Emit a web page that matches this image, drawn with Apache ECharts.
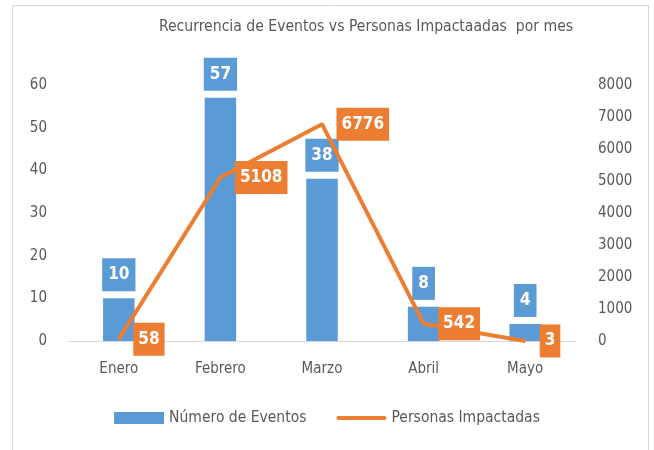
<!DOCTYPE html>
<html>
<head>
<meta charset="utf-8">
<script src="https://cdn.jsdelivr.net/npm/echarts@6/dist/echarts.min.js"></script>
<style>
  html, body { margin: 0; padding: 0; background: #fff; }
  #chart { width: 654px; height: 450px; }
</style>
</head>
<body>
<div id="chart"></div>
<script>
// datos del gráfico
const meses = ['Enero', 'Febrero', 'Marzo', 'Abril', 'Mayo'];
const numeroEventos = [10, 57, 38, 8, 4];
const personasImpactadas = [58, 5108, 6776, 542, 3];

const FONT = '"DejaVu Sans", sans-serif';
const STRETCH = 'condensed'; // se cuela en el font del canvas para la versión estrecha
const GRIS = '#595959';
const AZUL = '#5B9BD5';
const NARANJA = '#ED7D31';

const chart = echarts.init(document.getElementById('chart'));
chart.setOption({
  animation: false,
  textStyle: { fontFamily: FONT, fontStyle: STRETCH },
  title: {
    text: 'Recurrencia de Eventos vs Personas Impactaadas  por mes',
    left: 361,
    textAlign: 'center',
    top: 14,
    textStyle: { fontFamily: FONT, fontStyle: STRETCH, fontSize: 15.6, fontWeight: 'normal', color: GRIS }
  },
  graphic: [{
    type: 'rect',
    shape: { x: 12.5, y: 5.5, width: 636, height: 460 },
    style: { fill: 'none', stroke: '#D9D9D9', lineWidth: 1 },
    silent: true
  }],
  legend: {
    bottom: 19,
    left: 'center',
    itemGap: 30,
    itemWidth: 50,
    itemHeight: 12,
    textStyle: { fontFamily: FONT, fontStyle: STRETCH, fontSize: 15.5, color: GRIS },
    data: [
      { name: 'Número de Eventos', icon: 'rect' },
      { name: 'Personas Impactadas', icon: 'path://M2,0 L50,0 A2,2 0 0 1 50,4 L2,4 A2,2 0 0 1 2,0 Z', itemStyle: { color: NARANJA } }
    ]
  },
  grid: { left: 68, right: 78, top: 85, bottom: 109 },
  xAxis: {
    type: 'category',
    data: meses,
    axisLine: { lineStyle: { color: '#D9D9D9', width: 1 } },
    axisTick: { show: false },
    axisLabel: { color: GRIS, fontSize: 15, margin: 21, fontFamily: FONT, fontStyle: STRETCH }
  },
  yAxis: [{
    type: 'value',
    min: 0, max: 60, interval: 10,
    splitLine: { show: false },
    axisLine: { show: false },
    axisTick: { show: false },
    axisLabel: { color: GRIS, fontSize: 15, margin: 21, fontFamily: FONT, fontStyle: STRETCH }
  }, {
    type: 'value',
    min: 0, max: 8000, interval: 1000,
    splitLine: { show: false },
    axisLine: { show: false },
    axisTick: { show: false },
    axisLabel: { color: GRIS, fontSize: 15, margin: 22, fontFamily: FONT, fontStyle: STRETCH, formatter: v => String(v) }
  }],
  series: [{
    name: 'Número de Eventos',
    type: 'bar',
    data: numeroEventos,
    barWidth: '31%',
    itemStyle: { color: AZUL },
    label: {
      show: true,
      position: 'top',
      distance: 7,
      color: '#fff',
      fontSize: 17,
      fontWeight: 'bold',
      fontFamily: FONT,
      fontStyle: STRETCH,
      backgroundColor: AZUL,
      padding: [8, 6, 8, 6]
    }
  }, {
    name: 'Personas Impactadas',
    type: 'line',
    yAxisIndex: 1,
    data: personasImpactadas,
    symbol: 'circle',
    symbolSize: 1,
    showSymbol: true,
    z: 3,
    lineStyle: { color: NARANJA, width: 4 },
    itemStyle: { color: NARANJA },
    label: {
      show: true,
      position: 'right',
      distance: 14,
      color: '#fff',
      fontSize: 17,
      fontWeight: 'bold',
      fontFamily: FONT,
      fontStyle: STRETCH,
      backgroundColor: NARANJA,
      padding: [8, 5, 8, 5]
    }
  }]
});
</script>
</body>
</html>
